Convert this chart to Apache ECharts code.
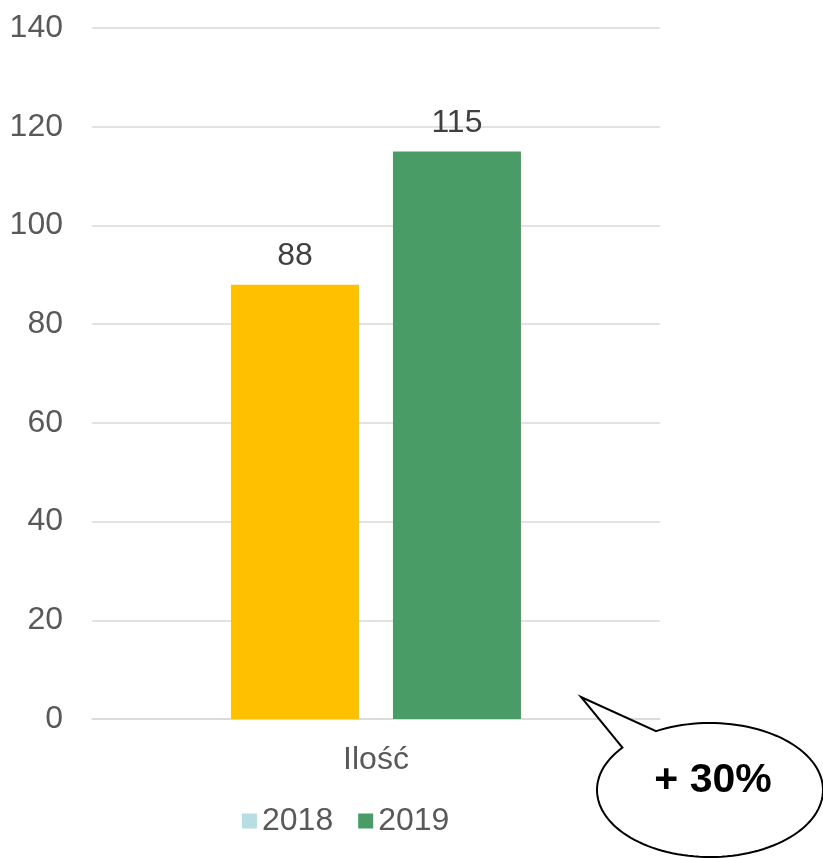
<!DOCTYPE html>
<html>
<head>
<meta charset="utf-8">
<script src="https://cdn.jsdelivr.net/npm/echarts@6/dist/echarts.min.js"></script>
<style>
  html, body { margin: 0; padding: 0; background: #fff; }
  #chart { width: 823px; height: 858px; }
</style>
</head>
<body>
<div id="chart"></div>
<script>
const categories = ['Ilość'];
const values2018 = [88];
const values2019 = [115];
const seriesNames = ['2018', '2019'];
const yTicks = { min: 0, max: 140, interval: 20 };
const calloutText = '+ 30%';

const chart = echarts.init(document.getElementById('chart'));
const font = 'Liberation Sans, Arial, sans-serif';
const textColor = '#595959';

// speech-bubble outline (decoration)
function bubblePoints(cx, cy, rx, ry, a0, a1, tip) {
  const pts = [];
  const n = 120;
  for (let i = 0; i <= n; i++) {
    const t = (a0 + (a1 - a0) * i / n) * Math.PI / 180;
    pts.push([cx + rx * Math.cos(t), cy + ry * Math.sin(t)]);
  }
  pts.push(tip);
  return pts;
}
const bubble = bubblePoints(710, 790, 113, 67, -118.5, 219.2, [581, 697]);

chart.setOption({
  animation: false,
  grid: { left: 92, right: 163, top: 28, bottom: 139 },
  legend: {
    data: seriesNames,
    left: 237,
    top: 800,
    padding: 5,
    icon: 'rect',
    itemWidth: 15,
    itemHeight: 15,
    itemGap: 25,
    textStyle: { fontFamily: font, fontSize: 32, color: textColor }
  },
  xAxis: {
    type: 'category',
    data: categories,
    axisLine: { show: true, lineStyle: { color: '#D9D9D9', width: 1.5 } },
    axisTick: { show: false },
    axisLabel: { fontFamily: font, fontSize: 32, color: textColor, margin: 25 }
  },
  yAxis: {
    type: 'value',
    min: yTicks.min,
    max: yTicks.max,
    interval: yTicks.interval,
    axisLine: { show: false },
    axisTick: { show: false },
    splitLine: { lineStyle: { color: '#D9D9D9', width: 1.5 } },
    axisLabel: { fontFamily: font, fontSize: 32, color: textColor, margin: 29 }
  },
  series: [
    {
      name: seriesNames[0],
      type: 'bar',
      barWidth: 128,
      barGap: '26.5%',
      itemStyle: { color: '#B7DEE4' },
      data: values2018.map(v => ({ value: v, itemStyle: { color: '#FFC000' } })),
      label: { show: true, position: 'top', distance: 12, fontFamily: font, fontSize: 32, color: '#404040' }
    },
    {
      name: seriesNames[1],
      type: 'bar',
      barWidth: 128,
      itemStyle: { color: '#4A9C66' },
      data: values2019,
      label: { show: true, position: 'top', distance: 12, fontFamily: font, fontSize: 32, color: '#404040' }
    }
  ],
  graphic: [
    {
      type: 'polygon',
      shape: { points: bubble },
      style: { fill: '#fff', stroke: '#000', lineWidth: 2 },
      z: 100
    },
    {
      type: 'text',
      x: 713,
      y: 781,
      style: {
        text: calloutText,
        fontFamily: font,
        fontWeight: 'bold',
        fontSize: 41,
        fill: '#000',
        align: 'center',
        verticalAlign: 'middle'
      },
      z: 101
    }
  ]
});
</script>
</body>
</html>
